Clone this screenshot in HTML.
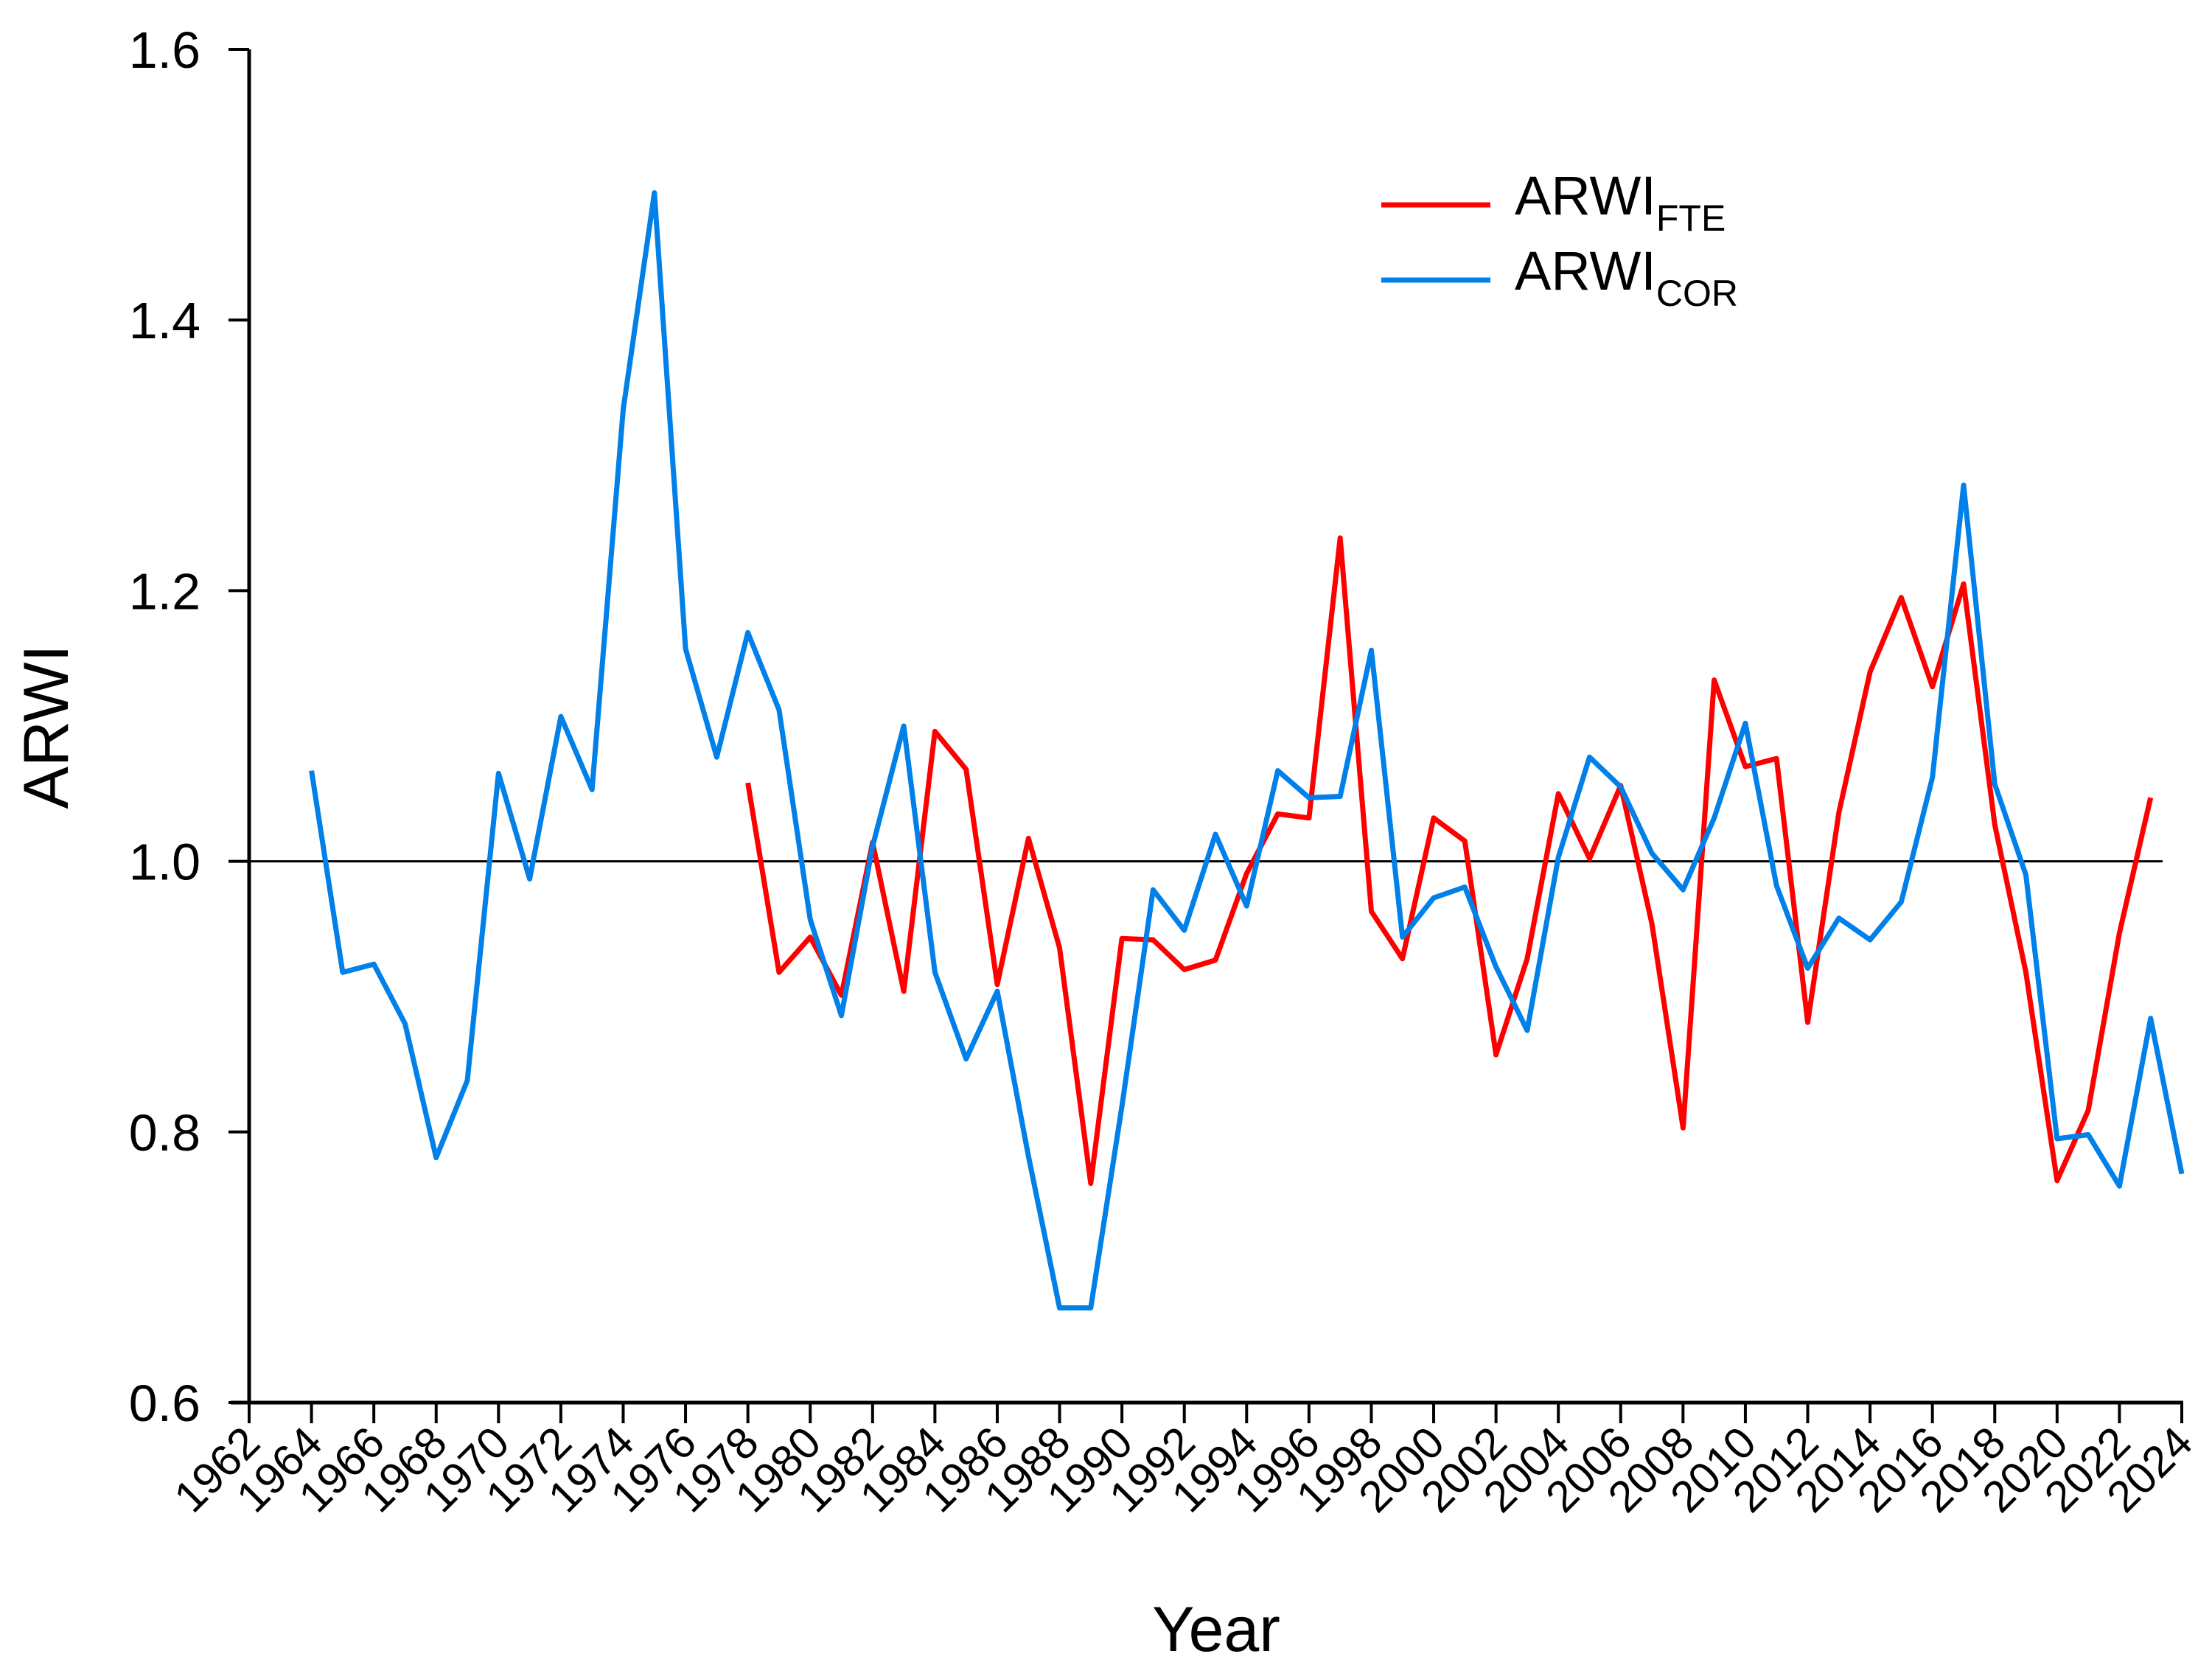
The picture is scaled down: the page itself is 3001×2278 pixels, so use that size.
<!DOCTYPE html>
<html><head><meta charset="utf-8"><style>
html,body{margin:0;padding:0;background:#fff;}
svg{display:block;font-family:"Liberation Sans",Arial,sans-serif;}
</style></head><body>
<svg id="chart" width="3001" height="2278" viewBox="0 0 3001 2278" xmlns="http://www.w3.org/2000/svg">
<g id="axes"></g>
<g id="series"></g>
<g id="legend">
  <line x1="1874" y1="278" x2="2022" y2="278" stroke="#ff0000" stroke-width="7"/>
  <text x="2055" y="291" font-size="74">ARWI<tspan font-size="50" dy="22">FTE</tspan></text>
  <line x1="1874" y1="380" x2="2022" y2="380" stroke="#0080e8" stroke-width="7"/>
  <text x="2055" y="393" font-size="74">ARWI<tspan font-size="50" dy="22">COR</tspan></text>
</g>
<text x="0" y="0" font-size="86" text-anchor="middle" transform="translate(92,986) rotate(-90)">ARWI</text>
<text x="1650" y="2240" font-size="86" text-anchor="middle">Year</text>
</svg>
<script>
const yTicks = [0.6, 0.8, 1.0, 1.2, 1.4, 1.6];
const xTicks = [1962,1964,1966,1968,1970,1972,1974,1976,1978,1980,1982,1984,1986,1988,1990,1992,1994,1996,1998,2000,2002,2004,2006,2008,2010,2012,2014,2016,2018,2020,2022,2024];
const corStartYear = 1964;
const corValues = [1.067,0.918,0.924,0.880,0.781,0.838,1.065,0.987,1.107,1.053,1.334,1.494,1.157,1.077,1.169,1.112,0.957,0.886,1.011,1.100,0.918,0.854,0.904,0.782,0.670,0.670,0.819,0.979,0.949,1.020,0.967,1.067,1.047,1.048,1.156,0.944,0.973,0.981,0.922,0.875,1.003,1.077,1.055,1.006,0.979,1.032,1.102,0.982,0.921,0.958,0.942,0.970,1.062,1.278,1.057,0.990,0.795,0.798,0.760,0.884,0.769];
const fteStartYear = 1978;
const fteValues = [1.058,0.918,0.944,0.901,1.014,0.904,1.096,1.068,0.909,1.017,0.936,0.762,0.943,0.942,0.920,0.927,0.991,1.035,1.032,1.239,0.963,0.928,1.032,1.015,0.857,0.928,1.050,1.002,1.056,0.954,0.803,1.134,1.070,1.076,0.881,1.036,1.140,1.195,1.129,1.205,1.027,0.918,0.764,0.816,0.947,1.047];
const refValue = 1.0;

const X0=338, X1=2960, Y0=1903, Y1=67;
const xs = yr => X0 + (yr-1962)/(2024-1962)*(X1-X0);
const ys = v => Y0 - (v-0.6)/(1.6-0.6)*(Y0-Y1);
const NS="http://www.w3.org/2000/svg";
function mk(tag, attrs, parent){const e=document.createElementNS(NS,tag);for(const k in attrs)e.setAttribute(k,attrs[k]);parent.appendChild(e);return e;}
const axes=document.getElementById('axes');
const series=document.getElementById('series');

let e;
e=mk('line',{x1:X0,y1:Y1,x2:X0,y2:Y0,stroke:'#000','stroke-width':5},axes);


e=mk('line',{x1:X0-25,y1:Y0,x2:X1+2,y2:Y0,stroke:'#000','stroke-width':5},axes);



yTicks.forEach(v=>{
  const y=ys(v);
  let t=mk('line',{x1:X0-28,y1:y,x2:X0,y2:y,stroke:'#000','stroke-width':4},axes);
  
  
  let l=mk('text',{x:272,y:y+25,'font-size':70,'text-anchor':'end'},axes);
  l.textContent=v.toFixed(1);
  
  
});
xTicks.forEach(yr=>{
  const x=xs(yr);
  let t=mk('line',{x1:x,y1:Y0,x2:x,y2:Y0+28,stroke:'#000','stroke-width':4},axes);
  
  
  let l=mk('text',{x:0,y:0,'font-size':60,'text-anchor':'end',transform:`translate(${x+18},${Y0+58}) rotate(-45)`},axes);
  l.textContent=String(yr);
  
  
});

e=mk('line',{x1:X0,y1:ys(refValue),x2:2934,y2:ys(refValue),stroke:'#000','stroke-width':3},series);



function path(vals,start){return vals.map((v,i)=>(i?'L':'M')+xs(start+i).toFixed(1)+','+ys(v).toFixed(1)).join(' ');}
e=mk('path',{d:path(fteValues,fteStartYear),fill:'none',stroke:'#ff0000','stroke-width':7,'stroke-linejoin':'round'},series);


e=mk('path',{d:path(corValues,corStartYear),fill:'none',stroke:'#0080e8','stroke-width':7,'stroke-linejoin':'round'},series);


</script>
</body></html>
